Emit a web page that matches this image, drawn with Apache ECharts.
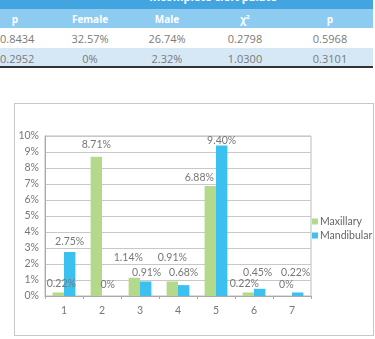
<!DOCTYPE html>
<html>
<head>
<meta charset="utf-8">
<script src="https://cdn.jsdelivr.net/npm/echarts@6/dist/echarts.min.js"></script>
<style>
	body{margin:0;width:375px;height:339px;overflow:hidden;background:#fff;font-family:"Open Sans",sans-serif;}
	#tableWrap{position:absolute;left:0;top:0;width:373px;height:68px;}
	.row{position:absolute;left:0;width:373px;}
	.cell{position:absolute;text-align:center;width:80px;margin-left:-40px;}
	#boxFrame{position:absolute;left:14px;top:103px;width:358px;height:231px;border:1px solid #c8c8c8;}
	#barContainer{position:absolute;left:0;top:0;width:375px;height:339px;}
</style>
</head>
<body>
	<div id="tableWrap"></div>
	<div id="boxFrame"></div>
	<div id="barContainer"></div>
<script>
	// 表格数据
	var tableTitle = 'Incomplete cleft palate';
	var tableHead = ['p', 'Female', 'Male', 'χ²', 'p'];
	var tableRows = [
		['0.8434', '32.57%', '26.74%', '0.2798', '0.5968'],
		['0.2952', '0%', '2.32%', '1.0300', '0.3101']
	];
	// 柱状图数据
	var categories = ['1', '2', '3', '4', '5', '6', '7'];
	var maxillary = [0.22, 8.71, 1.14, 0.91, 6.88, 0.22, 0];
	var mandibular = [2.75, 0, 0.91, 0.68, 9.40, 0.45, 0.22];
	var yTicks = [0, 10, 1];

	// 标签手动挪位 (像原图那样), [dx, dy]
	var maxLabelShift = [[3, 0], [0, -4], [-6, -12], [0, -15], [-11, 0], [-4, 0], [0, -3]];
	var mandLabelShift = [[0, -2], [0, -3], [1, 0], [0, -4], [0, 4], [-2, -8], [-2, -11]];

	// 画表格
	var colX = [15, 90, 167, 245, 330];
	var wrap = document.getElementById('tableWrap');
	var html = '';
	html += '<div class="row" style="top:0;height:9px;background:#42a5df;overflow:hidden;">'
		+ '<div style="position:absolute;left:213px;top:-11px;width:200px;margin-left:-100px;text-align:center;color:#fff;font-weight:bold;font-size:11px;">' + tableTitle + '</div></div>';
	html += '<div class="row" style="top:9px;height:19px;background:#8dcbf1;">';
	for (var i = 0; i < tableHead.length; i++) {
		html += '<div class="cell" style="left:' + colX[i] + 'px;top:3px;color:#fff;font-weight:bold;font-size:10px;">' + tableHead[i] + '</div>';
	}
	html += '</div>';
	var rowBg = ['#ffffff', '#d6e7f6'];
	for (var r = 0; r < tableRows.length; r++) {
		html += '<div class="row" style="top:' + (28 + r * 19.5) + 'px;height:19.5px;background:' + rowBg[r] + ';">';
		for (var c = 0; c < tableRows[r].length; c++) {
			var left = c === 0 ? 'left:0;margin-left:0;text-align:left;' : 'left:' + colX[c] + 'px;';
			html += '<div class="cell" style="' + left + 'top:3px;color:#7a7a7a;font-size:11px;">' + tableRows[r][c] + '</div>';
		}
		html += '</div>';
	}
	html += '<div class="row" style="top:66px;height:2px;background:#333;"></div>';
	wrap.innerHTML = html;

	var labelFmt = function (p) {
		return p.value === 0 ? '0%' : p.value.toFixed(2) + '%';
	};
	function buildData(vals, shifts) {
		return vals.map(function (v, i) {
			return {value: v, label: {offset: shifts[i]}};
		});
	}
	var barLabel = {
		show: true,
		position: 'top',
		distance: 3,
		color: '#777',
		fontSize: 10.5,
		fontFamily: 'Lato',
		formatter: labelFmt
	};

	var chart = echarts.init(document.getElementById('barContainer'));
	chart.setOption({
		animation: false,
		textStyle: {fontFamily: 'Lato'},
		color: ['#b4d98b', '#3cc0ef'],
		grid: {left: 45, right: 64, top: 136, bottom: 43, show: true, borderColor: '#bbb', borderWidth: 1},
		legend: {
			orient: 'vertical',
			left: 307,
			top: 211,
			itemWidth: 6,
			itemHeight: 6,
			itemGap: 3,
			icon: 'rect',
			textStyle: {color: '#666', fontSize: 10.5, padding: [0, 0, 0, -3]},
			data: ['Maxillary', 'Mandibular']
		},
		xAxis: {
			type: 'category',
			data: categories,
			axisLine: {lineStyle: {color: '#aaa'}},
			axisTick: {show: true, length: 3, lineStyle: {color: '#aaa'}},
			axisLabel: {color: '#777', fontSize: 10.5, margin: 9}
		},
		yAxis: {
			type: 'value',
			min: yTicks[0],
			max: yTicks[1],
			interval: yTicks[2],
			axisLine: {show: true, lineStyle: {color: '#aaa'}},
			axisTick: {show: false},
			splitLine: {lineStyle: {color: '#c8c8c8'}},
			axisLabel: {color: '#777', fontSize: 10.5, margin: 6, formatter: '{value}%'}
		},
		series: [
			{name: 'Maxillary', type: 'bar', barGap: '0%', barCategoryGap: '40%', data: buildData(maxillary, maxLabelShift), label: barLabel},
			{name: 'Mandibular', type: 'bar', data: buildData(mandibular, mandLabelShift), label: barLabel}
		]
	});
</script>
</body>
</html>
